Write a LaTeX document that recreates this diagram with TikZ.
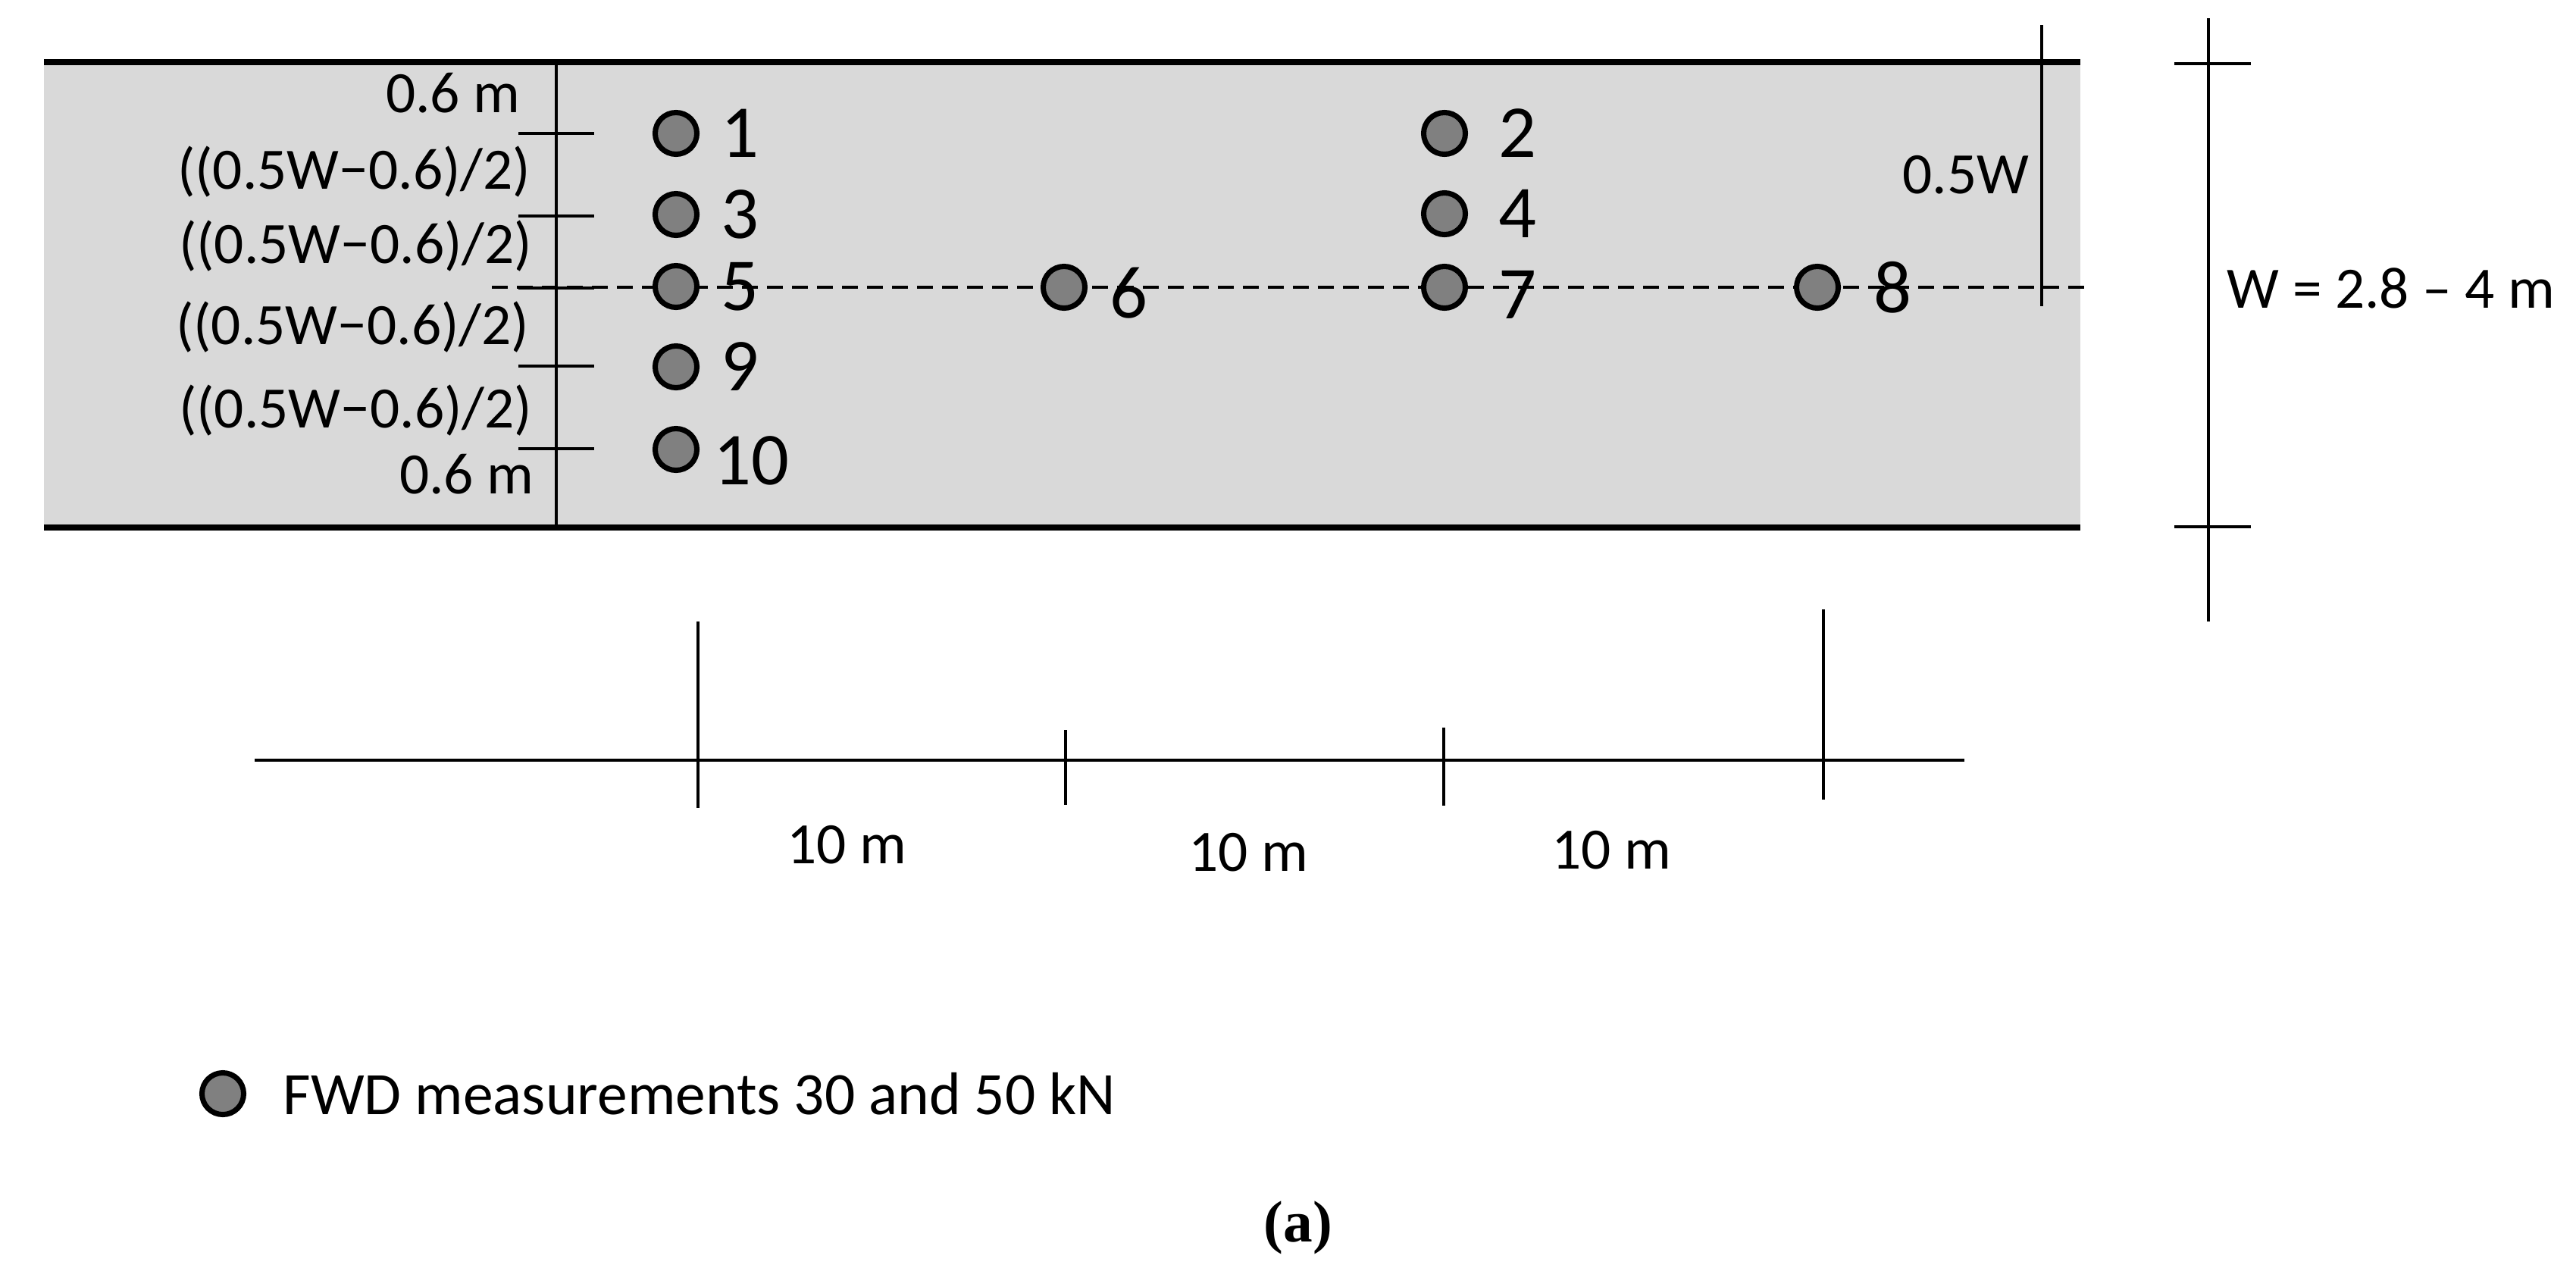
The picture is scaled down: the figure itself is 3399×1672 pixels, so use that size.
\documentclass[tikz,border=0pt]{standalone}
\usepackage{fontspec}
\setmainfont{Carlito}
\newfontfamily\serifcap{Liberation Serif}
\usetikzlibrary{positioning}
\definecolor{roadGray}{RGB}{217, 217, 217}
\definecolor{pointGray}{RGB}{128, 128, 128}

\begin{document}
\begin{tikzpicture}[x=0.01cm, y=-0.01cm,
    point/.style={circle, draw=black, line width=2pt, fill=pointGray, minimum size=0.55cm, inner sep=0pt},
    ptlabel/.style={font=\fontsize{28}{32}\selectfont, inner sep=0pt},
    dimlabel/.style={font=\fontsize{22}{26}\selectfont, inner sep=0pt},
    dimline/.style={line width=0.9pt}]
    \useasboundingbox (0,0) rectangle (3399,1672);
    \fill[roadGray] (58,82) rectangle (2745,696);
    \draw[line width=2.3pt] (58,82) -- (2745,82);
    \draw[line width=2.3pt] (58,696) -- (2745,696);

    \draw[line width=1.1pt, dash pattern=on 0.21cm off 0.12cm] (649,379) -- (2750,379);
    \draw[dimline] (734,82) -- (734,696);
    \draw[dimline] (684,176) -- (784,176);
    \draw[dimline] (684,285) -- (784,285);
    \draw[dimline] (684,380) -- (784,380);
    \draw[dimline] (684,483) -- (784,483);
    \draw[dimline] (684,592) -- (784,592);

    \node[dimlabel, anchor=base east] (top) at (687,148) {0.6 m};
    \node[dimlabel, anchor=base east] (s1) at (701,249) {((0.5W−0.6)/2)};
    \node[dimlabel, anchor=base east] (s2) at (703,347) {((0.5W−0.6)/2)};
    \node[dimlabel, anchor=base east] (s3) at (699,454) {((0.5W−0.6)/2)};
    \node[dimlabel, anchor=base east] (s4) at (703,564) {((0.5W−0.6)/2)};
    \node[dimlabel, anchor=base east] (bot) at (705,651) {0.6 m};

    \node[point] (p1) at (892,176) {};
    \node[point] (p3) at (892,283) {};
    \node[point] (p5) at (892,378) {};
    \node[point] (p9) at (892,484) {};
    \node[point] (p10) at (892,593) {};
    \node[point] (p6) at (1404,379) {};
    \node[point] (p2) at (1906,176) {};
    \node[point] (p4) at (1906,282) {};
    \node[point] (p7) at (1906,379) {};
    \node[point] (p8) at (2398,379) {};

    \node[ptlabel, right=0.28cm of p1] (l1) {1};
    \node[ptlabel, right=0.28cm of p3] (l3) {3};
    \node[ptlabel, right=0.28cm of p5] (l5) {5};
    \node[ptlabel, right=0.28cm of p9] (l9) {9};
    \node[ptlabel, right=0.18cm of p10, yshift=-0.15cm] (l10) {10};
    \node[ptlabel, right=0.29cm of p6, yshift=-0.08cm] (l6) {6};
    \node[ptlabel, right=0.4cm of p2] (l2) {2};
    \node[ptlabel, right=0.4cm of p4] (l4) {4};
    \node[ptlabel, right=0.4cm of p7, yshift=-0.1cm] (l7) {7};
    \node[ptlabel, right=0.43cm of p8] (l8) {8};

    \draw[dimline] (2694,33) -- (2694,404);
    \node[dimlabel, anchor=base east] (half) at (2678,255) {0.5W};
    \draw[dimline] (2914,24) -- (2914,820);
    \draw[dimline] (2869,84) -- (2970,84);
    \draw[dimline] (2869,695) -- (2970,695);
    \node[dimlabel, anchor=base west] (width) at (2938,406) {W = 2.8 – 4 m};

    \draw[line width=1.1pt] (336,1003) -- (2592,1003);
    \draw[dimline] (921,820) -- (921,1066);
    \draw[dimline] (1406,963) -- (1406,1062);
    \draw[dimline] (1905,960) -- (1905,1063);
    \draw[dimline] (2406,804) -- (2406,1055);
    \node[dimlabel, anchor=base] (d1) at (1117,1139) {10 m};
    \node[dimlabel, anchor=base] (d2) at (1647,1149) {10 m};
    \node[dimlabel, anchor=base] (d3) at (2126,1146) {10 m};

    \node[point] (key) at (294,1443) {};
    \node[dimlabel, font=\fontsize{22.6}{26}\selectfont, right=0.48cm of key] (keytext) {FWD measurements 30 and 50 kN};
    \node[font=\serifcap\bfseries\fontsize{22}{26}\selectfont, inner sep=0pt, anchor=base] (cap) at (1713,1638) {(a)};
\end{tikzpicture}
\end{document}
